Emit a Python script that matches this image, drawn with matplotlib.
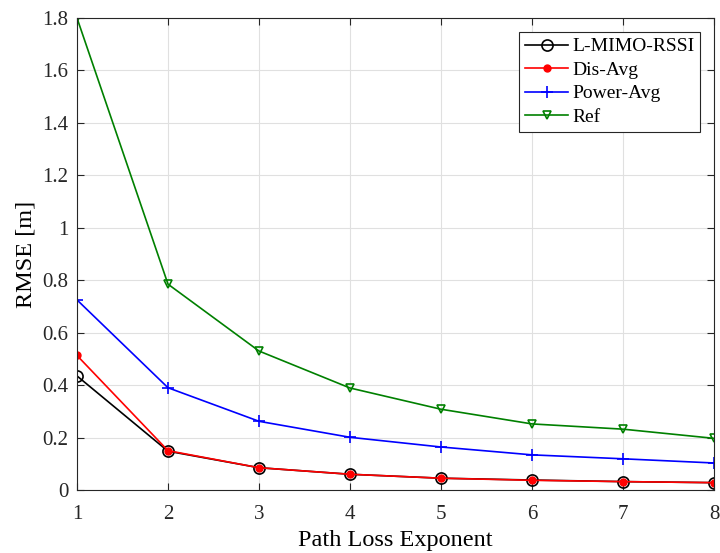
import numpy as np
import matplotlib.pyplot as plt

plt.rcParams['font.family'] = ['Liberation Serif', 'DejaVu Serif']
plt.rcParams['mathtext.fontset'] = 'stix'

# data
ple = [1, 2, 3, 4, 5, 6, 7, 8]
l_mimo = [0.435, 0.148, 0.085, 0.060, 0.045, 0.038, 0.032, 0.028]
dis_avg = [0.513, 0.150, 0.085, 0.060, 0.045, 0.037, 0.032, 0.028]
power_avg = [0.725, 0.390, 0.262, 0.201, 0.164, 0.134, 0.119, 0.103]
ref = [1.800, 0.785, 0.530, 0.389, 0.308, 0.252, 0.232, 0.197]

fig = plt.figure(figsize=(7.2, 5.53), dpi=100)
ax = fig.add_axes([77 / 720, 1 - 490 / 553, 637 / 720, 472 / 553])

ax.plot(ple, l_mimo, color='black', marker='o', markersize=8, markerfacecolor='none',
        markeredgewidth=1.2, linewidth=1.2, label='L-MIMO-RSSI')
ax.plot(ple, dis_avg, color='red', marker='o', markersize=5, linewidth=1.2, label='Dis-Avg')
ax.plot(ple, power_avg, color='blue', marker='+', markersize=8, markeredgewidth=1.2,
        linewidth=1.2, label='Power-Avg')
ax.plot(ple, ref, color='green', marker='v', markersize=6, markerfacecolor='none',
        markeredgewidth=1.2, linewidth=1.2, label='Ref')

ax.set_xlim(1, 8)
ax.set_ylim(0, 1.8)
ax.set_xticks(ple)
ax.set_yticks(np.arange(0, 1.81, 0.2))
ax.set_yticklabels(['0', '0.2', '0.4', '0.6', '0.8', '1', '1.2', '1.4', '1.6', '1.8'])
ax.grid(True, color='#e0e0e0', linewidth=0.8)
ax.set_axisbelow(True)
ax.tick_params(direction='in', labelsize=15, top=True, right=True, length=5, colors='#262626')
ax.tick_params(axis='x', pad=11)
ax.tick_params(axis='y', pad=6)
for s in ax.spines.values():
    s.set_color('#262626')
ax.set_xlabel('Path Loss Exponent', fontsize=17.5, labelpad=4)
ax.set_ylabel('RMSE [m]', fontsize=17.5)
ax.yaxis.set_label_coords(-0.063, 0.5)

leg = ax.legend(loc='upper right', fontsize=14, fancybox=False, framealpha=1,
                edgecolor='#262626', borderpad=0.3, labelspacing=0.3, handlelength=2.2,
                handletextpad=0.2, borderaxespad=0.72)
leg.get_frame().set_linewidth(0.8)

fig.savefig('out.png', dpi=100)
